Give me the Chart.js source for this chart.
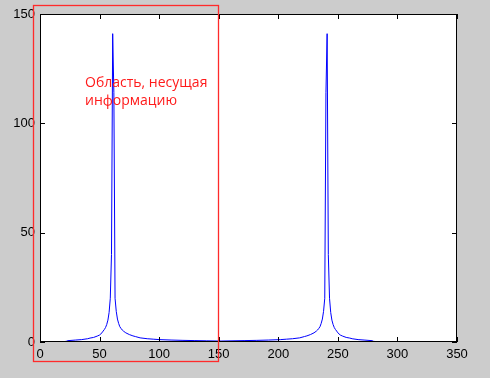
<!DOCTYPE html>
<html>
<head>
<meta charset="utf-8">
<script src="https://cdn.jsdelivr.net/npm/chart.js@4/dist/chart.umd.min.js"></script>
<style>
  html, body { margin: 0; padding: 0; background: #cccccc; }
  #wrap { width: 490px; height: 378px; }
</style>
</head>
<body>
<div id="wrap"><canvas id="spectrum" width="490" height="378"></canvas></div>
<script>
// Спектр сигнала (модуль БПФ), два симметричных пика

// отсчёты по оси X
const xValues = [
    1, 5, 10, 15, 20, 22, 23, 30, 35, 40, 42, 45, 48, 50, 52, 53, 54, 55, 56, 57, 58, 59, 60,
    61, 62, 63, 64, 65, 66, 67, 68, 69, 70, 72, 75, 78, 80, 84, 90, 95, 100, 110, 120, 130, 140, 150,
    151,
    152, 162, 172, 182, 192, 202, 207, 212, 218, 222, 224, 227, 230, 232, 233, 234, 235, 236, 237, 238, 239, 240,
    241, 242, 243, 244, 245, 246, 247, 248, 249, 250, 252, 254, 257, 260, 262, 267, 272, 279, 280, 282, 287, 292, 297, 300
];

// значения амплитуды
const yValues = [
    0.1, 0.1, 0.1, 0.15, 0.2, 0.3, 0.6, 0.9, 1.1, 1.5, 1.8, 2.1, 2.7, 3.2, 4.2, 5.0, 5.7, 6.6, 8.0, 10, 13.5, 20, 40,
    141, 114, 20, 14, 10.5, 8.5, 7.0, 6.2, 5.5, 5.0, 4.2, 3.4, 2.8, 2.5, 1.9, 1.5, 1.3, 1.1, 0.9, 0.75, 0.65, 0.55, 0.45,
    0.45,
    0.45, 0.55, 0.65, 0.75, 0.9, 1.1, 1.3, 1.5, 1.9, 2.5, 2.8, 3.4, 4.2, 5.0, 5.5, 6.2, 7.0, 8.5, 10.5, 14, 20, 114,
    141, 40, 20, 13.5, 10, 8.0, 6.6, 5.7, 5.0, 4.2, 3.2, 2.7, 2.1, 1.8, 1.5, 1.1, 0.9, 0.6, 0.3, 0.2, 0.15, 0.1, 0.1, 0.1
];

// деления осей
const xTicks = [0, 50, 100, 150, 200, 250, 300, 350];
const yTicks = [0, 50, 100, 150];

// подпись и рамка области (в единицах осей)
const noteLines = ['Область, несущая', 'информацию'];
const noteBox = { x0: -6, x1: 149.5, y0: -8.6, y1: 154 };
const noteAt = { x: 37.8, y: [116.4, 108.2] };

const points = xValues.map((x, i) => ({ x: x, y: yValues[i] }));

// серый фон фигуры и белый фон области построения
const plotBackground = {
    id: 'plotBackground',
    beforeDraw(chart) {
        const { ctx, chartArea: a } = chart;
        ctx.save();
        ctx.fillStyle = '#cccccc';
        ctx.fillRect(0, 0, chart.width, chart.height);
        ctx.fillStyle = '#ffffff';
        ctx.fillRect(a.left, a.top, a.right - a.left, a.bottom - a.top);
        ctx.restore();
    }
};

// рамка осей, внутренние засечки, красная рамка и текст
const matlabFrame = {
    id: 'matlabFrame',
    afterDatasetsDraw(chart) {
        const { ctx, chartArea: a, scales } = chart;
        const sx = scales.x, sy = scales.y;
        const tick = 5;
        ctx.save();
        ctx.strokeStyle = '#000000';
        ctx.lineWidth = 1;
        ctx.strokeRect(a.left + 0.5, a.top + 0.5, a.right - a.left - 1, a.bottom - a.top - 1);

        ctx.beginPath();
        xTicks.forEach(v => {
            const px = Math.round(sx.getPixelForValue(v)) + 0.5;
            ctx.moveTo(px, a.bottom);
            ctx.lineTo(px, a.bottom - tick);
            ctx.moveTo(px, a.top);
            ctx.lineTo(px, a.top + tick);
        });
        yTicks.forEach(v => {
            const py = Math.round(sy.getPixelForValue(v)) + 0.5;
            ctx.moveTo(a.left, py);
            ctx.lineTo(a.left + tick, py);
            ctx.moveTo(a.right, py);
            ctx.lineTo(a.right - tick, py);
        });
        ctx.stroke();

        // красная рамка
        const bx0 = Math.round(sx.getPixelForValue(noteBox.x0)) + 0.5;
        const bx1 = Math.round(sx.getPixelForValue(noteBox.x1)) + 0.5;
        const by0 = Math.round(sy.getPixelForValue(noteBox.y1)) + 0.5;
        const by1 = Math.round(sy.getPixelForValue(noteBox.y0)) + 0.5;
        ctx.strokeStyle = '#ff2a2a';
        ctx.lineWidth = 1.3;
        ctx.strokeRect(bx0, by0, bx1 - bx0, by1 - by0);

        // подпись
        ctx.fillStyle = '#ff1a1a';
        ctx.font = '14px "Open Sans", "Noto Sans", sans-serif';
        ctx.textAlign = 'left';
        ctx.textBaseline = 'alphabetic';
        noteLines.forEach((t, i) => {
            ctx.fillText(t, sx.getPixelForValue(noteAt.x), sy.getPixelForValue(noteAt.y[i]));
        });
        ctx.restore();
    }
};

const tickFont = { family: '"Liberation Sans", Arial, sans-serif', size: 13 };

new Chart(document.getElementById('spectrum').getContext('2d'), {
    type: 'line',
    data: {
        datasets: [{
            data: points,
            borderColor: '#0000ff',
            borderWidth: 1,
            pointRadius: 0,
            tension: 0,
            fill: false
        }]
    },
    options: {
        responsive: false,
        animation: false,
        events: [],
        layout: { padding: { top: 14, right: 33, left: 0, bottom: 0 } },
        plugins: {
            legend: { display: false },
            tooltip: { enabled: false }
        },
        scales: {
            x: {
                type: 'linear',
                min: 0,
                max: 350,
                afterFit: s => { s.height = 36; },
                afterBuildTicks: s => { s.ticks = xTicks.map(v => ({ value: v })); },
                grid: { display: false, drawTicks: false },
                border: { display: false },
                ticks: { color: '#000000', font: tickFont, padding: 5, maxRotation: 0 }
            },
            y: {
                type: 'linear',
                min: 0,
                max: 150,
                afterFit: s => { s.width = 40; },
                afterBuildTicks: s => { s.ticks = yTicks.map(v => ({ value: v })); },
                grid: { display: false, drawTicks: false },
                border: { display: false },
                ticks: { color: '#000000', font: tickFont, padding: 5 }
            }
        }
    },
    plugins: [plotBackground, matlabFrame]
});
</script>
</body>
</html>
